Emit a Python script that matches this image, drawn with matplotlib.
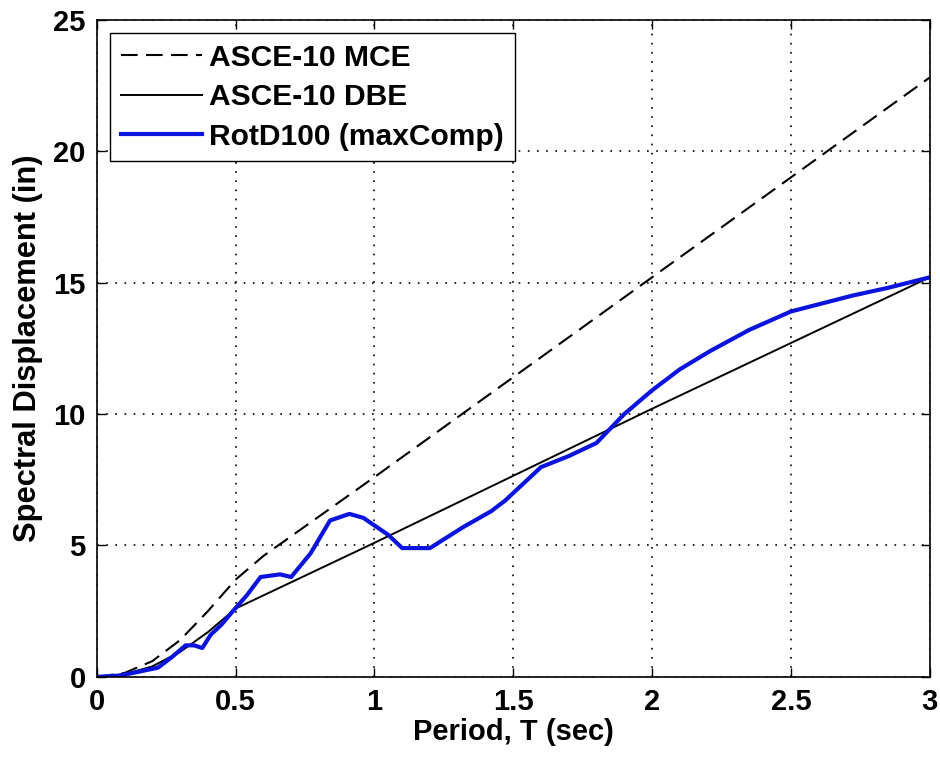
import matplotlib
matplotlib.use("Agg")
import matplotlib.pyplot as plt
import numpy as np

plt.rcParams['font.family'] = ['Liberation Sans', 'DejaVu Sans']

# MCE / DBE design spectra (spectral displacement, in)
T_design = [0.0, 0.1, 0.2, 0.3, 0.4, 0.5, 0.6, 1.0, 1.5, 2.0, 2.5, 3.0]
mce = [0.0, 0.15, 0.6, 1.4, 2.5, 3.7, 4.6, 7.6, 11.4, 15.2, 19.0, 22.8]
dbe = [0.0, 0.1, 0.4, 0.95, 1.7, 2.6, 3.1, 5.1, 7.65, 10.2, 12.7, 15.2]

# RotD100 (maxComp)
T_rot = [0.0, 0.08, 0.13, 0.22, 0.27, 0.32, 0.35, 0.38, 0.41, 0.45, 0.49, 0.54, 0.59, 0.66,
         0.70, 0.77, 0.84, 0.91, 0.96, 1.05, 1.10, 1.20, 1.32, 1.42, 1.47, 1.60, 1.70, 1.80,
         1.90, 2.00, 2.10, 2.21, 2.35, 2.50, 2.72, 2.85, 3.0]
rot = [0.0, 0.05, 0.15, 0.35, 0.75, 1.2, 1.2, 1.1, 1.6, 2.0, 2.5, 3.1, 3.8, 3.9,
       3.8, 4.7, 5.95, 6.2, 6.05, 5.4, 4.9, 4.9, 5.7, 6.3, 6.7, 7.98, 8.4, 8.9,
       10.0, 10.9, 11.7, 12.4, 13.2, 13.9, 14.5, 14.8, 15.2]

x_ticks = [0, 0.5, 1, 1.5, 2, 2.5, 3]
y_ticks = [0, 5, 10, 15, 20, 25]

fig = plt.figure(figsize=(9.4, 7.58), dpi=100)
ax = fig.add_axes([0.103, 0.107, 0.886, 0.867])

ax.plot(T_design, mce, color='black', linestyle=(0, (8, 4)), linewidth=1.5, label='ASCE-10 MCE')
ax.plot(T_design, dbe, color='black', linestyle='-', linewidth=1.4, label='ASCE-10 DBE')
ax.plot(T_rot, rot, color='#0b14dc', linestyle='-', linewidth=3.0, label='RotD100 (maxComp)')

ax.set_xlim(0, 3)
ax.set_ylim(0, 25)
ax.set_xticks(x_ticks)
ax.set_yticks(y_ticks)
ax.set_xticklabels([f'{t:g}' for t in x_ticks])
ax.set_yticklabels([f'{t:g}' for t in y_ticks])
ax.tick_params(direction='in', top=True, right=True, length=6.5, width=1.0, labelsize=21)
ax.tick_params(axis='x', pad=8)
ax.tick_params(axis='y', pad=8)
for lab in ax.get_xticklabels() + ax.get_yticklabels():
    lab.set_fontweight('bold')

ax.grid(True, color='black', linestyle=(0, (1, 4.5)), linewidth=1.2)
for s in ax.spines.values():
    s.set_linewidth(1.2)

ax.set_xlabel('Period, T (sec)', fontsize=21, fontweight='bold', labelpad=1.5)
ax.set_ylabel('Spectral Displacement (in)', fontsize=22.2, fontweight='bold', labelpad=7.5)

leg = ax.legend(loc='upper left', prop={'size': 21.6, 'weight': 'bold'}, frameon=True, fancybox=False,
                edgecolor='black', framealpha=1, handlelength=2.7, handletextpad=0.25,
                borderaxespad=0.45, borderpad=0.35, labelspacing=0.38)
leg.get_frame().set_linewidth(1.0)

fig.savefig('out.png', dpi=100)
